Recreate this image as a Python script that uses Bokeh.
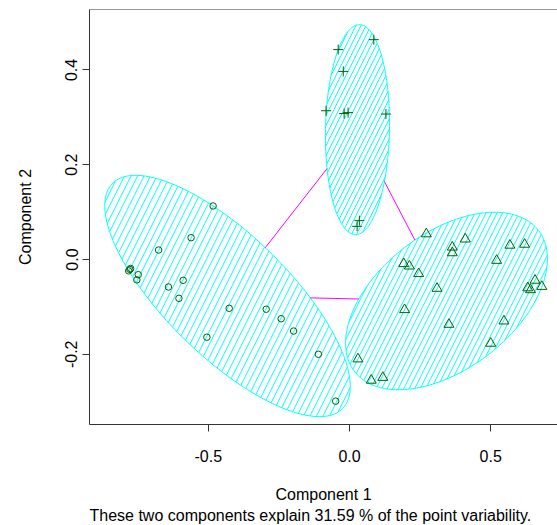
import numpy as np
from bokeh.plotting import figure
from bokeh.models import FixedTicker, Span, Title, PrintfTickFormatter
from bokeh.embed import file_html
from bokeh.resources import INLINE

# ---- data ----
circ_x = [-0.483, -0.561, -0.676, -0.778, -0.782, -0.775, -0.748, -0.753, -0.589, -0.641,
          -0.604, -0.426, -0.295, -0.242, -0.198, -0.505, -0.110, -0.049]
circ_y = [0.113, 0.046, 0.020, -0.021, -0.024, -0.019, -0.032, -0.043, -0.044, -0.058,
          -0.082, -0.103, -0.105, -0.125, -0.151, -0.164, -0.200, -0.299]

tri_x = [0.272, 0.410, 0.364, 0.364, 0.568, 0.620, 0.521, 0.192, 0.212, 0.245, 0.310,
         0.657, 0.631, 0.641, 0.681, 0.195, 0.352, 0.547, 0.500, 0.030, 0.077, 0.118]
tri_y = [0.054, 0.043, 0.026, 0.014, 0.030, 0.032, -0.002, -0.009, -0.014, -0.030, -0.061,
         -0.044, -0.060, -0.064, -0.057, -0.106, -0.137, -0.130, -0.177, -0.210, -0.255, -0.249]

plus_x = [0.086, -0.040, -0.022, -0.083, -0.019, -0.005, 0.129, 0.035, 0.027]
plus_y = [0.464, 0.443, 0.397, 0.314, 0.308, 0.310, 0.307, 0.082, 0.070]

# cluster ellipses: centre and two conjugate semi-axis vectors (data units)
ell_cx = [-0.432, 0.0283, 0.3435]
ell_cy = [-0.077, 0.274, -0.0876]
ell_ax = [0.4076, 0.0074, 0.3261]
ell_ay = [-0.2374, 0.2216, 0.1486]
ell_bx = [-0.1510, 0.1133, 0.1462]
ell_by = [-0.0921, -0.0014, -0.1140]
ell_hatch = [13, 10, 11]

x_ticks = [-0.5, 0.0, 0.5]
y_ticks = [-0.2, 0.0, 0.2, 0.4]

xlab = "Component 1"
ylab = "Component 2"
sub = "These two components explain 31.59 % of the point variability."

FONT = "Liberation Sans"
AX = "#333333"
PT = "#006400"

# pixel geometry of reference -> data ranges
X0, XS = 349.0, 282.4
Y0, YS = 259.0, 473.8
def dx(px):
    return (px - X0) / XS
def dy(py):
    return (Y0 - py) / YS

W, H = 557, 525
FL, FT, FB = 89, 9, 424
p = figure(width=W, height=H,
           x_range=(dx(FL), dx(W)), y_range=(dy(FB), dy(FT)),
           output_backend="svg", toolbar_location=None,
           min_border_left=FL, min_border_right=0, min_border_top=FT, min_border_bottom=H - FB)
p.grid.visible = False
p.outline_line_color = None
p.background_fill_color = "white"
p.border_fill_color = "white"

# ellipses
t = np.linspace(0, 2 * np.pi, 240)
for i in range(3):
    ex = ell_cx[i] + ell_ax[i] * np.cos(t) + ell_bx[i] * np.sin(t)
    ey = ell_cy[i] + ell_ay[i] * np.cos(t) + ell_by[i] * np.sin(t)
    p.patch(ex, ey, fill_color=None, line_color="#00FFFF", line_width=1,
            hatch_pattern="/", hatch_color="#00FFFF", hatch_scale=ell_hatch[i], hatch_weight=1)

# connecting segments between ellipse boundaries
def boundary_s(i, d):
    M = np.array([[ell_ax[i], ell_bx[i]], [ell_ay[i], ell_by[i]]])
    q = np.linalg.solve(M, d)
    return 1.0 / np.linalg.norm(q)

for i, j in [(0, 1), (1, 2), (0, 2)]:
    ci = np.array([ell_cx[i], ell_cy[i]])
    cj = np.array([ell_cx[j], ell_cy[j]])
    d = cj - ci
    si = boundary_s(i, d)
    sj = boundary_s(j, -d)
    a = ci + si * d
    b = cj - sj * d
    p.line([a[0], b[0]], [a[1], b[1]], line_color="#FF00FF", line_width=1)

# points
p.scatter(circ_x, circ_y, marker="circle", size=6.5, fill_color=None, line_color=PT, line_width=1)
p.scatter(tri_x, tri_y, marker="triangle", size=10, fill_color=None, line_color=PT, line_width=1)
p.scatter(plus_x, plus_y, marker="cross", size=10, line_color=PT, line_width=1)

# axes
for ax in (p.xaxis[0], p.yaxis[0]):
    ax.axis_line_color = AX
    ax.major_tick_line_color = AX
    ax.minor_tick_line_color = None
    ax.major_tick_out = 7
    ax.major_tick_in = 0
    ax.major_label_text_font = FONT
    ax.major_label_text_font_size = "16px"
    ax.major_label_text_color = "black"
    ax.formatter = PrintfTickFormatter(format="%.1f")
    ax.axis_label_text_font = FONT
    ax.axis_label_text_font_size = "16px"
    ax.axis_label_text_font_style = "normal"
    ax.axis_label_text_color = "black"

p.xaxis.ticker = FixedTicker(ticks=x_ticks)
p.yaxis.ticker = FixedTicker(ticks=y_ticks)
p.xaxis.major_label_standoff = 18
p.xaxis.axis_label = xlab
p.xaxis.axis_label_standoff = 21
p.yaxis.major_label_orientation = "vertical"
p.yaxis.major_label_standoff = 5
p.yaxis.axis_label = ylab
p.yaxis.axis_label_standoff = 29

p.add_layout(Span(location=dy(FT), dimension="width", line_color=AX, line_width=1))

p.add_layout(Title(text=sub, align="left", offset=89 - FL, standoff=-2,
                   text_font=FONT, text_font_size="16px", text_font_style="normal",
                   text_color="black"), "below")

open("out.html", "w").write(file_html(p, INLINE))
